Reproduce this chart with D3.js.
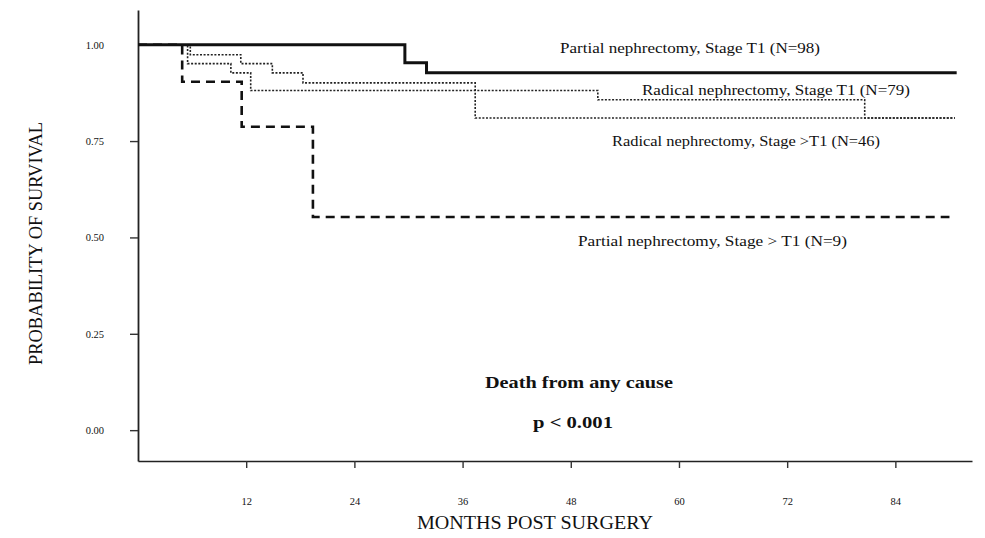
<!DOCTYPE html>
<html>
<head>
<meta charset="utf-8">
<script src="https://cdn.jsdelivr.net/npm/d3@7"></script>
<style>
  html, body { margin: 0; padding: 0; background: #fff; }
  svg { display: block; }
  text { font-family: "Liberation Serif", "DejaVu Serif", serif; fill: #111; }
</style>
</head>
<body>
<svg id="chart" width="985" height="538"></svg>
<script>
// Kaplan-Meier estimates: survival drops at each event time, line runs to last follow-up.
const partialT1Times = [0, 29.6, 32.0];
const partialT1Surv  = [1.00, 0.953, 0.927];
const partialT1End   = 90.8;

const radicalT1Times = [0, 5.5, 10.3, 12.5, 51.0, 80.6];
const radicalT1Surv  = [1.00, 0.951, 0.927, 0.881, 0.857, 0.810];
const radicalT1End   = 90.6;

const radicalGtT1Times = [0, 5.8, 11.4, 14.9, 18.3, 37.4];
const radicalGtT1Surv  = [1.00, 0.974, 0.951, 0.927, 0.901, 0.810];
const radicalGtT1End   = 90.6;

const partialGtT1Times = [0, 4.9, 11.5, 19.4];
const partialGtT1Surv  = [1.00, 0.904, 0.787, 0.553];
const partialGtT1End   = 90.0;

const seriesLabels = [
  "Partial nephrectomy, Stage T1 (N=98)",
  "Radical nephrectomy, Stage T1 (N=79)",
  "Radical nephrectomy, Stage >T1 (N=46)",
  "Partial nephrectomy, Stage > T1 (N=9)"
];

const monthTicks = [12, 24, 36, 48, 60, 72, 84];
const survivalTicks = [0, 0.25, 0.5, 0.75, 1.0];

const svg = d3.select("#chart");

const x = d3.scaleLinear().domain([0, 92.5]).range([138, 972]);
const y = d3.scaleLinear().domain([-0.08, 1.09]).range([461, 10]);

// Axes
const yAxis = d3.axisLeft(y)
  .tickValues(survivalTicks)
  .tickFormat(d3.format(".2f"))
  .tickSize(8)
  .tickSizeOuter(0)
  .tickPadding(26);

const xAxis = d3.axisBottom(x)
  .tickValues(monthTicks)
  .tickFormat(d3.format("d"))
  .tickSize(7)
  .tickSizeOuter(0)
  .tickPadding(30);

const gy = svg.append("g").attr("transform", `translate(${x.range()[0]},0)`).call(yAxis);
gy.select(".domain").attr("stroke", "#222").attr("stroke-width", 1.8);
gy.selectAll(".tick line").attr("stroke", "#333").attr("stroke-width", 1.4);
gy.selectAll(".tick").filter(d => d === 1).select("line").remove();
gy.selectAll(".tick text")
  .style("font-family", "'Liberation Serif', serif")
  .style("font-size", "10.5px")
  .attr("fill", "#555");

const gx = svg.append("g").attr("transform", `translate(0,${y.range()[0]})`).call(xAxis);
gx.select(".domain").attr("stroke", "#222").attr("stroke-width", 1.5);
gx.selectAll(".tick line").attr("stroke", "#333").attr("stroke-width", 1.4);
gx.selectAll(".tick text")
  .style("font-family", "'Liberation Serif', serif")
  .style("font-size", "10.5px")
  .attr("fill", "#555");

// Survival curves
const line = d3.line()
  .x(d => x(d[0]))
  .y(d => y(d[1]))
  .curve(d3.curveStepAfter);

function stepPoints(times, surv, end) {
  const pts = times.map((t, i) => [t, surv[i]]);
  pts.push([end, surv[surv.length - 1]]);
  return pts;
}

const curves = [
  { pts: stepPoints(radicalGtT1Times, radicalGtT1Surv, radicalGtT1End), width: 1.6, dash: "2,1.6", color: "#222" },
  { pts: stepPoints(radicalT1Times, radicalT1Surv, radicalT1End), width: 1.6, dash: "2,1.6", color: "#222" },
  { pts: stepPoints(partialGtT1Times, partialGtT1Surv, partialGtT1End), width: 2.6, dash: "9,6", color: "#111" },
  { pts: stepPoints(partialT1Times, partialT1Surv, partialT1End), width: 3, dash: null, color: "#111" }
];

svg.append("g").selectAll("path")
  .data(curves)
  .join("path")
  .attr("d", d => line(d.pts))
  .attr("fill", "none")
  .attr("stroke", d => d.color)
  .attr("stroke-width", d => d.width)
  .attr("stroke-dasharray", d => d.dash);

// Curve labels
const labelPos = [
  { x: 560, y: 53, w: 260 },
  { x: 642, y: 95, w: 268 },
  { x: 612, y: 146, w: 268 },
  { x: 578, y: 246, w: 269 }
];
svg.append("g").selectAll("text")
  .data(seriesLabels)
  .join("text")
  .attr("x", (d, i) => labelPos[i].x)
  .attr("y", (d, i) => labelPos[i].y)
  .attr("textLength", (d, i) => labelPos[i].w)
  .attr("lengthAdjust", "spacingAndGlyphs")
  .style("font-size", "15.5px")
  .text(d => d);

// Annotation
svg.append("text")
  .attr("x", 485).attr("y", 388)
  .attr("textLength", 188).attr("lengthAdjust", "spacingAndGlyphs")
  .style("font-size", "17px").style("font-weight", "bold")
  .text("Death from any cause");
svg.append("text")
  .attr("x", 533).attr("y", 428)
  .attr("textLength", 80).attr("lengthAdjust", "spacingAndGlyphs")
  .style("font-size", "17px").style("font-weight", "bold")
  .text("p < 0.001");

// Axis titles
svg.append("text")
  .attr("x", 417).attr("y", 529)
  .attr("textLength", 236).attr("lengthAdjust", "spacingAndGlyphs")
  .style("font-size", "18.5px")
  .text("MONTHS POST SURGERY");
svg.append("text")
  .attr("transform", "translate(42,365) rotate(-90)")
  .attr("textLength", 243).attr("lengthAdjust", "spacingAndGlyphs")
  .style("font-size", "18px")
  .text("PROBABILITY OF SURVIVAL");
</script>
</body>
</html>
